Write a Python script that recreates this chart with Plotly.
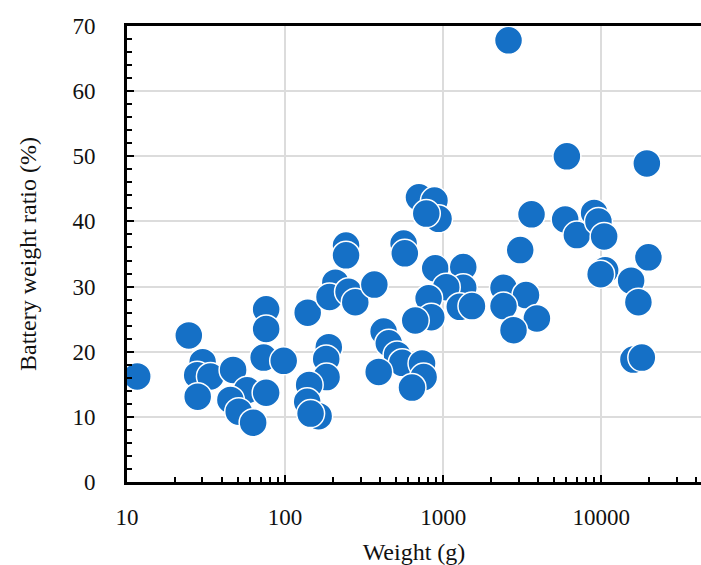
import plotly.graph_objects as go

# Weight (g) and battery weight ratio (%)
weight_g = [
    11.6, 24.6, 30.1, 27.8, 33.7, 28.0, 46.9, 57.5, 45.1, 50.9, 62.8,
    75.9, 75.9, 73.2, 98.0, 75.9,
    139, 189, 182, 183, 142, 138, 163, 145,
    243, 243, 208, 191, 252, 278, 367,
    562, 572, 420, 453, 511, 551, 391, 735, 752, 635,
    703, 881, 935, 782, 891, 1340, 1340, 1046, 809, 1274, 1521, 841, 666,
    2591, 6062, 19430, 3622, 3072, 5913, 7012, 9016, 9600, 10430,
    2409, 3342, 2409, 3917, 2786,
    10585, 9913, 15450, 17180, 19880, 15980, 18060,
]
battery_ratio = [
    16.2, 22.5, 18.4, 16.4, 16.2, 13.1, 17.2, 14.1, 12.6, 10.8, 9.1,
    26.5, 23.5, 19.1, 18.6, 13.7,
    26.0, 20.7, 18.9, 16.1, 14.9, 12.3, 10.1, 10.5,
    36.3, 34.8, 30.6, 28.4, 29.2, 27.6, 30.3,
    36.6, 35.1, 23.1, 21.3, 19.5, 18.3, 16.9, 18.2, 16.1, 14.5,
    43.7, 43.2, 40.4, 41.2, 32.8, 33.0, 29.8, 29.9, 28.2, 26.9, 27.0, 25.3, 24.8,
    67.8, 50.0, 48.9, 41.1, 35.6, 40.3, 37.9, 41.3, 40.0, 37.7,
    29.8, 28.7, 27.0, 25.1, 23.3,
    32.5, 31.9, 30.9, 27.6, 34.5, 18.8, 19.1,
]

x_tick_vals = [10, 100, 1000, 10000]
x_tick_text = ["10", "100", "1000", "10000"]
y_tick_vals = [0, 10, 20, 30, 40, 50, 60, 70]

FONT = "Times New Roman, Liberation Serif, DejaVu Serif"

fig = go.Figure(
    go.Scatter(
        x=weight_g,
        y=battery_ratio,
        mode="markers",
        marker=dict(size=28, color="#1570C6", line=dict(color="white", width=1.5)),
        showlegend=False,
    )
)

fig.update_layout(
    width=701,
    height=565,
    margin=dict(l=127, r=0, t=26, b=83),
    paper_bgcolor="white",
    plot_bgcolor="white",
    font=dict(family=FONT, size=23, color="#111"),
)

fig.update_xaxes(
    type="log",
    range=[1, 4.631],
    tickvals=x_tick_vals,
    ticktext=x_tick_text,
    ticks="inside",
    ticklen=7,
    tickwidth=2,
    tickcolor="black",
    minor=dict(ticks="inside", ticklen=5, tickwidth=2, tickcolor="black",
               dtick="D1", showgrid=False),
    showgrid=True,
    gridcolor="#dcdcdc",
    gridwidth=1.5,
    showline=True,
    linecolor="black",
    linewidth=3,
    mirror=True,
    zeroline=False,
    ticklabelstandoff=12,
    tickfont=dict(family=FONT, size=23, color="#111"),
    title=dict(text="Weight (g)", font=dict(family=FONT, size=24, color="#111"), standoff=18),
    automargin=False,
)

fig.update_yaxes(
    range=[0, 70],
    tickvals=y_tick_vals,
    ticks="inside",
    ticklen=7,
    tickwidth=2,
    tickcolor="black",
    minor=dict(ticks="inside", ticklen=5, tickwidth=2, tickcolor="black",
               dtick=2, showgrid=False),
    showgrid=True,
    gridcolor="#dcdcdc",
    gridwidth=1.5,
    showline=True,
    linecolor="black",
    linewidth=3,
    mirror=False,
    zeroline=False,
    ticklabelstandoff=24,
    tickfont=dict(family=FONT, size=23, color="#111"),
    title=dict(text="Battery weight ratio (%)", font=dict(family=FONT, size=24, color="#111"), standoff=30),
    automargin=False,
)

fig.write_html("out.html")
